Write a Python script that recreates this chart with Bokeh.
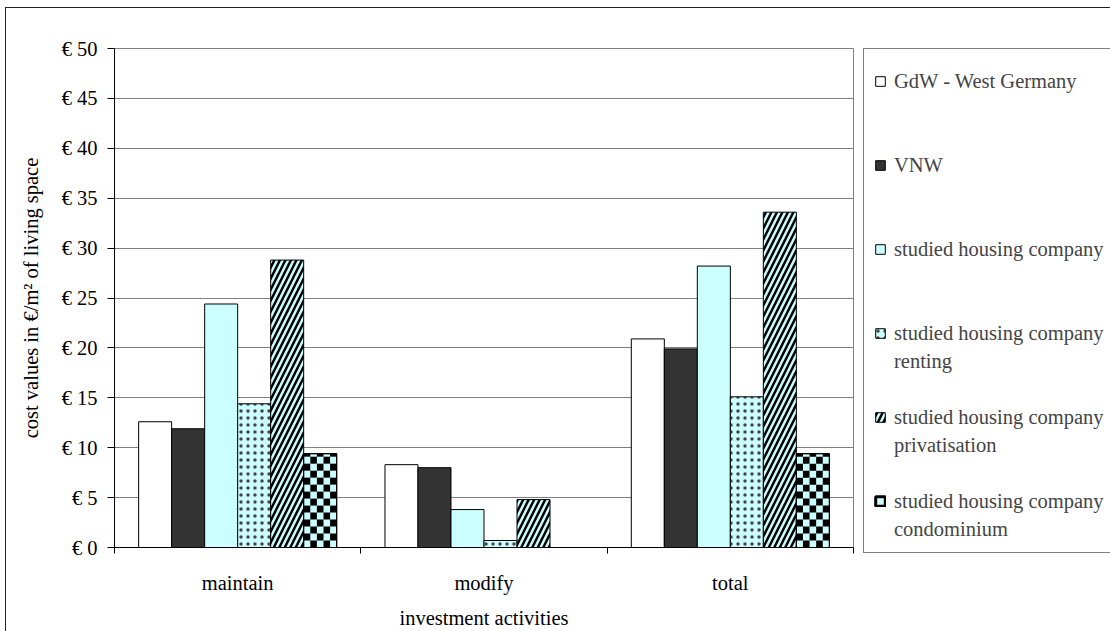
import math
from bokeh.plotting import figure
from bokeh.models import (FixedTicker, Legend, LegendItem, Range1d, PrintfTickFormatter)
from bokeh.core.properties import value
from bokeh.embed import file_html
from bokeh.resources import INLINE

# --- data -------------------------------------------------------------
categories = ["maintain", "modify", "total"]
series_labels = [
    "GdW - West Germany",
    "VNW",
    "studied housing company",
    "studied housing company\nrenting",
    "studied housing company\nprivatisation",
    "studied housing company\ncondominium",
]
gdw_west = [12.6, 8.3, 20.9]
vnw = [11.9, 8.0, 19.9]
studied = [24.4, 3.8, 28.2]
studied_renting = [14.4, 0.7, 15.1]
studied_privatisation = [28.8, 4.8, 33.6]
studied_condominium = [9.4, 0.0, 9.4]
y_ticks = [0, 5, 10, 15, 20, 25, 30, 35, 40, 45, 50]

series_values = [gdw_west, vnw, studied, studied_renting,
                 studied_privatisation, studied_condominium]

FONT = "Liberation Serif"
FS = "20.5px"
CYAN = "#CCFFFF"

styles = [
    dict(fill_color="white"),
    dict(fill_color="#333333"),
    dict(fill_color=CYAN),
    dict(fill_color=CYAN, hatch_pattern=".", hatch_color="#444444", hatch_scale=7),
    dict(fill_color=CYAN, hatch_pattern="/", hatch_color="black",
         hatch_scale=11, hatch_weight=2.5),
    dict(fill_color=CYAN),
]

# --- figure ---------------------------------------------------------------
p = figure(
    frame_width=739, frame_height=499,
    min_border_left=108, min_border_top=40, min_border_bottom=84, min_border_right=257,
    x_range=Range1d(0, len(categories)), y_range=Range1d(0, 50),
    output_backend="svg", toolbar_location=None,
    background_fill_color="white", border_fill_color="white",
    outline_line_color="#808080",
)
p.styles = {"margin-left": "5px", "margin-top": "7px",
            "border-left": "1px solid #222", "border-top": "1px solid #222"}

n = len(series_values)
bar_w = 0.134


def bar_x(i):
    return [g + 0.5 + (i - (n - 1) / 2) * bar_w for g in range(len(categories))]


renderers = []
for i, (vals, st) in enumerate(zip(series_values, styles)):
    r = p.vbar(x=bar_x(i), top=vals, width=bar_w, bottom=0,
               line_color="black", line_width=1, **st)
    renderers.append(r)

# checkerboard fill for the condominium bars, built from the bar heights
cols, cell_h = 5, 0.7
ql, qr, qb, qt = [], [], [], []
for xc, top in zip(bar_x(5), studied_condominium):
    rows = math.ceil(top / cell_h)
    left = xc - bar_w / 2
    cw = bar_w / cols
    for rrow in range(rows):
        for c in range(cols):
            if (rrow + c) % 2 == 1:
                ql.append(left + c * cw)
                qr.append(left + (c + 1) * cw)
                qb.append(rrow * cell_h)
                qt.append(min((rrow + 1) * cell_h, top))
p.quad(left=ql, right=qr, bottom=qb, top=qt, fill_color="black", line_color=None)
p.vbar(x=bar_x(5), top=studied_condominium, width=bar_w, bottom=0,
       fill_color=None, line_color="black", line_width=1)

# legend-only keys: an invisible key for text rows, a framed key for the checker
# series (their single bar lies far outside the visible ranges)
OFF = dict(x=[-10], top=[-10], bottom=[-20], width=bar_w)
no_key = p.vbar(fill_color=None, line_color=None, **OFF)
checker_key = p.vbar(fill_color=CYAN, line_color="black", line_width=3, **OFF)
legend_keys = list(renderers)
legend_keys[5] = checker_key

# y axis
p.yaxis.ticker = FixedTicker(ticks=y_ticks)
p.yaxis.formatter = PrintfTickFormatter(format="€ %d")
p.yaxis.major_tick_out = 7
p.yaxis.major_tick_in = 0
p.yaxis.minor_tick_out = 0
p.yaxis.minor_tick_in = 0
p.yaxis.major_label_standoff = 10
p.yaxis.axis_label = "cost values in €/m² of living space"
p.yaxis.axis_label_standoff = 17

# x axis: labels at category centres, ticks on category boundaries
p.xaxis.ticker = FixedTicker(ticks=[g + 0.5 for g in range(len(categories))],
                             minor_ticks=list(range(len(categories) + 1)))
p.xaxis.major_label_overrides = {g + 0.5: c for g, c in enumerate(categories)}
p.xaxis.major_tick_out = 0
p.xaxis.major_tick_in = 0
p.xaxis.minor_tick_out = 6
p.xaxis.minor_tick_in = 0
p.xaxis.major_label_standoff = 18
p.xaxis.axis_label = "investment activities"
p.xaxis.axis_label_standoff = 10

for ax in (p.xaxis, p.yaxis):
    ax.axis_line_color = "black"
    ax.major_tick_line_color = "black"
    ax.minor_tick_line_color = "black"
    ax.major_label_text_font = FONT
    ax.major_label_text_font_size = FS
    ax.major_label_text_color = "black"
    ax.axis_label_text_font = FONT
    ax.axis_label_text_font_size = FS
    ax.axis_label_text_font_style = "normal"
    ax.axis_label_text_color = "black"

p.xgrid.grid_line_color = None
p.ygrid.grid_line_color = "#808080"
p.ygrid.ticker = FixedTicker(ticks=y_ticks)

# legend rows: each entry takes three rows; continuation lines sit on their own row
ROWS_PER_ENTRY = 3
items = []
for k, (lab, key) in enumerate(zip(series_labels, legend_keys)):
    lines = lab.split("\n")
    items.append(LegendItem(label=value(lines[0]), renderers=[key]))
    for extra in lines[1:]:
        items.append(LegendItem(label=value(extra), renderers=[no_key]))
    if k < len(series_labels) - 1:
        for _ in range(ROWS_PER_ENTRY - len(lines)):
            items.append(LegendItem(label=value(" "), renderers=[no_key]))

legend = Legend(
    items=items,
    location=(10, -6),
    glyph_width=12, glyph_height=12, label_standoff=8,
    label_height=26, label_width=215,
    label_text_font=FONT, label_text_font_size=FS,
    padding=10, spacing=2, margin=0,
    title=" ", title_text_font_size="8px", title_standoff=0,
    border_line_color="black", border_line_width=1,
    background_fill_color="white", background_fill_alpha=1,
)
p.add_layout(legend, "right")

open("out.html", "w").write(file_html(p, INLINE))
